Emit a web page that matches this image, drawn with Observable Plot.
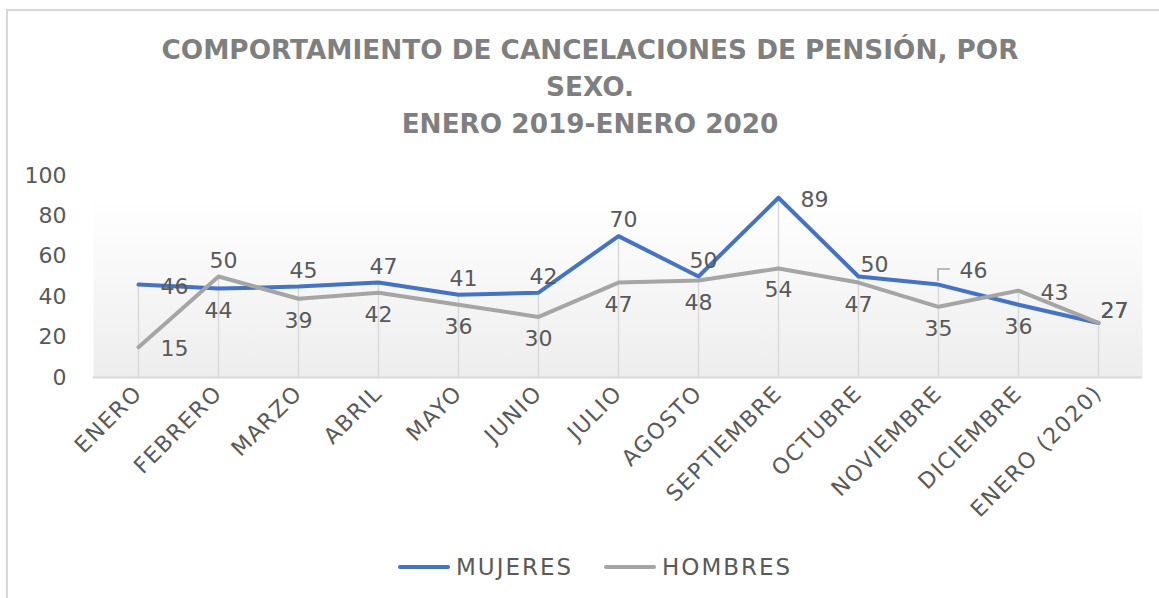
<!DOCTYPE html>
<html><head><meta charset="utf-8">
<script src="https://cdn.jsdelivr.net/npm/d3@7"></script>
<script src="https://cdn.jsdelivr.net/npm/@observablehq/plot@0.6"></script>
<style>
body{margin:0;background:#fff;}
#wrap{position:relative;width:1159px;height:598px;overflow:hidden;background:#fff;font-family:"DejaVu Sans",sans-serif;}
#border{position:absolute;left:6px;top:9px;width:1300px;height:800px;border:2px solid #d9d9d9;box-sizing:border-box;}
#title{position:absolute;left:10px;width:1160px;top:32px;text-align:center;font-weight:bold;font-size:26.3px;line-height:37px;color:#7f7f7f;}
#plot{position:absolute;left:0;top:150px;}
.leg{position:absolute;top:555px;height:24px;display:flex;align-items:center;font-size:23px;letter-spacing:2px;color:#595959;}
.leg svg{margin-right:6px;}
</style>
</head><body>
<div id="wrap">
  <div id="border"></div>
  <div id="title"></div>
  <div id="plot"></div>
  <div id="legend"></div>
</div>
<script>
const titleLines = ["COMPORTAMIENTO DE CANCELACIONES DE PENSIÓN, POR", "SEXO.", "ENERO 2019-ENERO 2020"];
const months = ["ENERO","FEBRERO","MARZO","ABRIL","MAYO","JUNIO","JULIO","AGOSTO","SEPTIEMBRE","OCTUBRE","NOVIEMBRE","DICIEMBRE","ENERO (2020)"];
const mujeres = [46,44,45,47,41,42,70,50,89,50,46,36,27];
const hombres = [15,50,39,42,36,30,47,48,54,47,35,43,27];
const yTicks = [0,20,40,60,80,100];
const seriesNames = ["MUJERES","HOMBRES"];
const seriesColors = ["#4472C4","#A5A5A5"];
const mujeresLabelPlace = ["right","below","above","above","above","above","above","above","right","aboveRight","rightHigh","below","aboveRight"];
const hombresLabelPlace = ["right","above","below","below","below","below","below","below","below","below","below","right","aboveRight"];

const placeOffsets = {right:[36,2], above:[5,-16], below:[0,22], aboveRight:[16,-12], rightHigh:[35,-14]};

document.getElementById("title").innerHTML = titleLines.map(t => `<div>${t}</div>`).join("");

const seriesValues = [mujeres, hombres];
const seriesPlaces = [mujeresLabelPlace, hombresLabelPlace];
const rows = [];
seriesNames.forEach((s, k) => months.forEach((m, i) => rows.push({month: m, serie: s, value: seriesValues[k][i], place: seriesPlaces[k][i]})));
const drops = months.map((m, i) => ({month: m, top: Math.max(mujeres[i], hombres[i])}));
const leaderRows = rows.filter(d => d.place === "rightHigh");

const labelMarks = [];
for (const [place, [dx, dy]] of Object.entries(placeOffsets)) {
  labelMarks.push(Plot.text(rows.filter(d => d.place === place), {
    x: "month", y: "value", text: d => String(d.value), dx, dy,
    fill: "#595959", fontSize: 22, textAnchor: "middle", lineAnchor: "middle"
  }));
}

// leader line (bracket) for labels placed high to the right
const leaderMark = (index, scales) => {
  const g = d3.create("svg:g");
  for (const d of leaderRows) {
    const x = scales.x(d.month), y = scales.y(d.value);
    g.append("path")
      .attr("d", `M${x},${y - 3}V${y - 15}H${x + 12}`)
      .attr("fill", "none").attr("stroke", "#a6a6a6").attr("stroke-width", 1.5);
  }
  return g.node();
};

const plot = Plot.plot({
  width: 1159, height: 377,
  marginTop: 25, marginBottom: 150, marginLeft: 93, marginRight: 17,
  x: {type: "point", domain: months, padding: 0.5},
  y: {domain: [0, 100]},
  style: {fontFamily: "DejaVu Sans", fontSize: "22px", color: "#595959", background: "transparent", overflow: "visible"},
  marks: [
    Plot.frame({fill: "url(#plotGrad)", stroke: "none"}),
    Plot.ruleX(drops, {x: "month", y1: 0, y2: "top", stroke: "#d9d9d9", strokeWidth: 1.5}),
    Plot.ruleY([0], {stroke: "#d9d9d9", strokeWidth: 2}),
    Plot.axisY({ticks: yTicks, tickSize: 0, tickPadding: 27, label: null, fill: "#595959", fontSize: 22}),
    Plot.axisX({tickSize: 0, tickRotate: -45, tickPadding: 12, label: null, fill: "#595959", fontSize: 22}),
    leaderMark,
    ...seriesNames.map((s, k) => Plot.line(rows.filter(d => d.serie === s), {
      x: "month", y: "value", stroke: seriesColors[k], strokeWidth: 4, strokeLinecap: "round", strokeLinejoin: "round"
    })),
    ...labelMarks
  ]
});

// gradient background for plot area
const svgNS = "http://www.w3.org/2000/svg";
const defs = document.createElementNS(svgNS, "defs");
defs.innerHTML = `<linearGradient id="plotGrad" x1="0" y1="0" x2="0" y2="1">
  <stop offset="0" stop-color="#ffffff"/><stop offset="0.12" stop-color="#ffffff"/><stop offset="1" stop-color="#ededed"/></linearGradient>`;
plot.insertBefore(defs, plot.firstChild);
d3.select(plot).selectAll('[aria-label="x-axis tick label"] text').attr("letter-spacing", "1.5");
document.getElementById("plot").appendChild(plot);

// legend
const legend = document.getElementById("legend");
const legendLeft = [398, 604];
seriesNames.forEach((s, k) => {
  const item = document.createElement("div");
  item.className = "leg";
  item.style.left = legendLeft[k] + "px";
  item.innerHTML = `<svg width="52" height="8"><line x1="2" y1="4" x2="50" y2="4" stroke="${seriesColors[k]}" stroke-width="4" stroke-linecap="round"/></svg><span>${s}</span>`;
  legend.appendChild(item);
});
</script>
</body></html>
